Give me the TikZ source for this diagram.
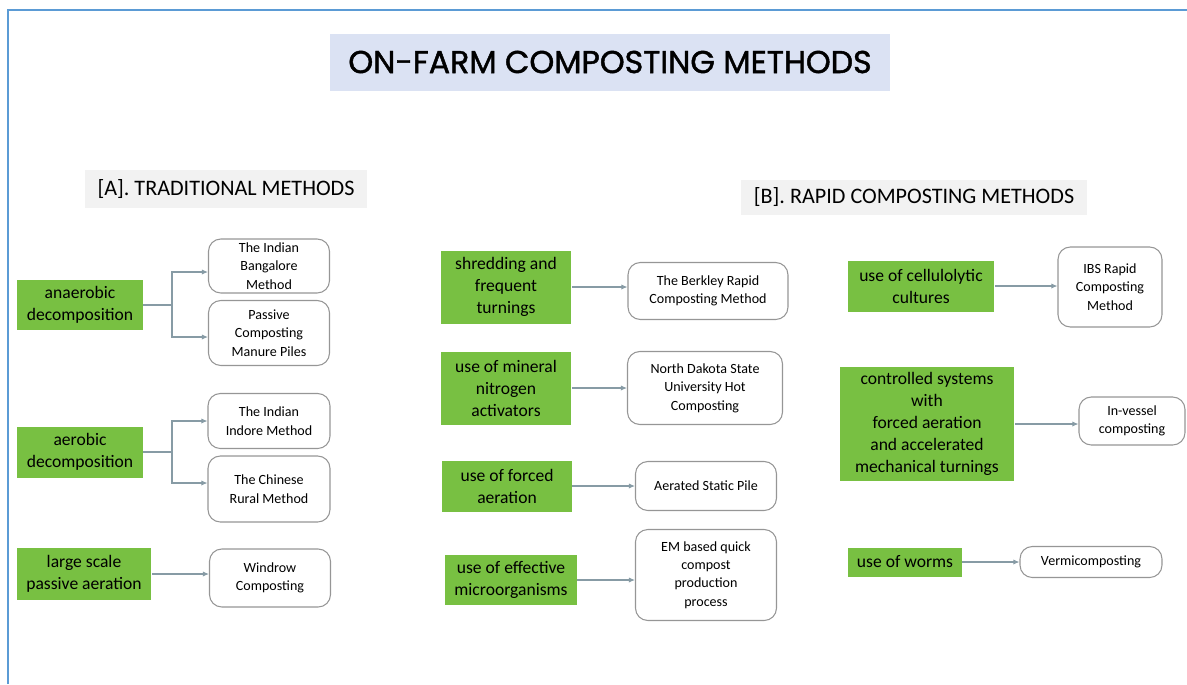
\documentclass[tikz,border=0pt]{standalone}
\usepackage{fontspec}
\setmainfont{Carlito}
\newfontfamily\titlefont{Poppins}[FakeBold=1.4]
\usetikzlibrary{arrows.meta}

\definecolor{leafgreen}{RGB}{120,192,66}
\definecolor{lavender}{RGB}{219,226,243}
\definecolor{labelgray}{RGB}{242,242,242}
\definecolor{framblue}{RGB}{91,155,213}
\definecolor{linkgray}{RGB}{135,155,165}
\definecolor{edgegray}{RGB}{150,150,150}

\begin{document}
\begin{tikzpicture}[x=0.02cm, y=-0.02cm,
  cause/.style = {shape=rectangle, fill=leafgreen, align=center,
    inner sep=2pt, font=\fontsize{10}{12.5}\selectfont},
  method/.style = {shape=rectangle, draw=edgegray, rounded corners=7pt,
    fill=white, align=center, inner sep=2pt, line width=0.6pt,
    font=\fontsize{8}{10.5}\selectfont},
  heading/.style = {shape=rectangle, fill=labelgray, inner sep=2pt,
    font=\fontsize{12.6}{15}\selectfont},
  link/.style = {draw=linkgray, line width=0.6pt},
  arr/.style = {link, -{Latex[length=3.5pt,width=3pt]}}]
  \useasboundingbox (0,0) rectangle (1187,684);
  \draw[framblue, line width=0.8pt] (8,684) -- (8,10) -- (1187,10);

  \node[fill=lavender, minimum width=11.2cm, minimum height=1.14cm,
    font=\titlefont\fontsize{18}{21}\selectfont] (title) at (610,62)
    {ON-FARM COMPOSTING METHODS};
  \node[heading, minimum width=5.66cm, minimum height=0.76cm] (trad) at (226,189)
    {[A]. TRADITIONAL METHODS};
  \node[heading, minimum width=6.92cm, minimum height=0.7cm] (rapid) at (914,197)
    {[B]. RAPID COMPOSTING METHODS};

  % traditional methods
  \node[cause, minimum width=2.52cm, minimum height=1cm] (anaer) at (80,305)
    {anaerobic\\decomposition};
  \node[cause, minimum width=2.52cm, minimum height=1.02cm] (aer) at (80,452)
    {aerobic\\decomposition};
  \node[cause, minimum width=2.7cm, minimum height=1.04cm] (passive) at (84,574)
    {large scale\\passive aeration};
  \node[method, minimum width=2.42cm, minimum height=1.08cm] (bang) at (269,266)
    {The Indian\\Bangalore\\Method};
  \node[method, minimum width=2.42cm, minimum height=1.3cm] (piles) at (269,333)
    {Passive\\Composting\\Manure Piles};
  \node[method, minimum width=2.44cm, minimum height=1.1cm] (indore) at (269,421)
    {The Indian\\Indore Method};
  \node[method, minimum width=2.44cm, minimum height=1.32cm] (rural) at (269,489)
    {The Chinese\\Rural Method};
  \node[method, minimum width=2.42cm, minimum height=1.16cm] (windrow) at (270,578)
    {Windrow\\Composting};

  \coordinate (bus1) at (172,305);
  \coordinate (bus2) at (172,452);
  \draw[link] (anaer.east) -- (bus1);
  \draw[arr] (bus1) |- ([yshift=-0.12cm]bang.west);
  \draw[arr] (bus1) |- ([yshift=-0.08cm]piles.west);
  \draw[link] (aer.east) -- (bus2);
  \draw[arr] (bus2) |- (indore.west);
  \draw[arr] (bus2) |- ([yshift=0.12cm]rural.west);
  \draw[arr] (passive.east) -- (passive.east -| windrow.west);

  % rapid methods, middle column
  \node[cause, minimum width=2.62cm, minimum height=1.46cm] (shred) at (506,287)
    {shredding and\\frequent\\turnings};
  \node[cause, minimum width=2.62cm, minimum height=1.46cm] (mineral) at (506,388)
    {use of mineral\\nitrogen\\activators};
  \node[cause, minimum width=2.6cm, minimum height=1.02cm] (forced) at (507,486)
    {use of forced\\aeration};
  \node[cause, minimum width=2.64cm, minimum height=1cm] (micro) at (511,580)
    {use of effective\\microorganisms};
  \node[method, minimum width=3.2cm, minimum height=1.14cm] (berkley) at (708,291)
    {The Berkley Rapid\\Composting Method};
  \node[method, minimum width=3.1cm, minimum height=1.46cm] (ndsu) at (705,388)
    {North Dakota State\\University Hot\\Composting};
  \node[method, minimum width=2.82cm, minimum height=0.98cm] (asp) at (706,486)
    {Aerated Static Pile};
  \node[method, minimum width=2.82cm, minimum height=1.82cm] (em) at (706,575)
    {EM based quick\\compost\\production\\process};

  \draw[arr] (shred.east) -- (shred.east -| berkley.west);
  \draw[arr] (mineral.east) -- (mineral.east -| ndsu.west);
  \draw[arr] (forced.east) -- (forced.east -| asp.west);
  \draw[arr] (micro.east) -- (micro.east -| em.west);

  % rapid methods, right column
  \node[cause, minimum width=2.94cm, minimum height=1.02cm] (cellulo) at (921,286)
    {use of cellulolytic\\cultures};
  \node[cause, minimum width=3.5cm, minimum height=2.3cm] (vessel) at (927,424)
    {controlled systems\\with\\forced aeration\\and accelerated\\mechanical turnings};
  \node[cause, minimum width=2.28cm, minimum height=0.58cm] (worms) at (905,562)
    {use of worms};
  \node[method, minimum width=2.08cm, minimum height=1.6cm] (ibs) at (1110,287)
    {IBS Rapid\\Composting\\Method};
  \node[method, minimum width=2.12cm, minimum height=0.96cm] (invessel) at (1132,421)
    {In-vessel\\composting};
  \node[method, minimum width=2.84cm, minimum height=0.62cm] (vermi) at (1091,562)
    {Vermicomposting};

  \draw[arr] (cellulo.east) -- (cellulo.east -| ibs.west);
  \draw[arr] (vessel.east) -- (vessel.east -| invessel.west);
  \draw[arr] (worms.east) -- (worms.east -| vermi.west);
\end{tikzpicture}
\end{document}
